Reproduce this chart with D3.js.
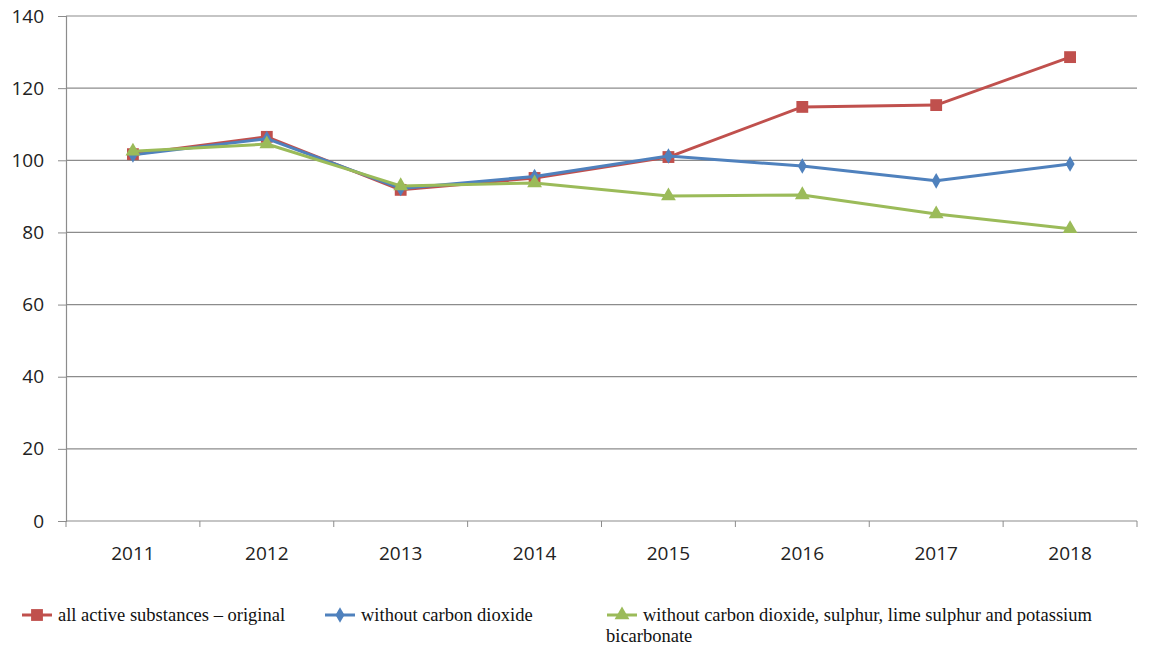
<!DOCTYPE html>
<html>
<head>
<meta charset="utf-8">
<script src="https://cdn.jsdelivr.net/npm/d3@7"></script>
<style>
  body { margin: 0; background: #fff; }
  svg { display: block; }
</style>
</head>
<body>
<script>
// DATA
// =============================================================================

const years = ["2011", "2012", "2013", "2014", "2015", "2016", "2017", "2018"];
const allSubstances = [101.7, 106.5, 91.8, 95.1, 100.9, 114.8, 115.3, 128.6];
const withoutCO2 = [101.5, 106.0, 92.2, 95.5, 101.2, 98.4, 94.3, 99.0];
const withoutCO2Sulphur = [102.5, 104.5, 92.9, 93.7, 90.1, 90.4, 85.1, 81.0];
const yTicks = [0, 20, 40, 60, 80, 100, 120, 140];

const seriesNames = [
  "all active substances \u2013 original",
  "without carbon dioxide",
  "without carbon dioxide, sulphur, lime sulphur and potassium"
];

// CONFIG VARS
// =============================================================================

const width = 1153;
const height = 646;
const plot = { left: 66, top: 16, right: 1137, bottom: 521 };
const tickFont = "'Open Sans', Carlito, sans-serif";
const legendFont = "'Liberation Serif', 'Times New Roman', serif";

const series = [
  { name: seriesNames[0], values: allSubstances, color: "#C0504D", marker: "square" },
  { name: seriesNames[1], values: withoutCO2, color: "#4F81BD", marker: "diamond" },
  { name: seriesNames[2], values: withoutCO2Sulphur, color: "#9BBB59", marker: "triangle" }
];

// SCALES
// =============================================================================

const xScale = d3.scaleBand()
    .domain(years)
    .range([plot.left, plot.right]);

const yScale = d3.scaleLinear()
    .domain([0, 140])
    .range([plot.bottom, plot.top]);

const symbolFor = {
  square: d3.symbol().type(d3.symbolSquare).size(140),
  diamond: d3.symbol().type(d3.symbolDiamond).size(70),
  triangle: d3.symbol().type(d3.symbolTriangle).size(95)
};

// INITIALIZE THE SVG
// =============================================================================

const svg = d3.select("body")
    .append("svg")
    .attr("width", width)
    .attr("height", height);

// gridlines
svg.append("g")
    .selectAll("line")
    .data(yTicks.filter(d => d > 0))
    .enter()
    .append("line")
    .attr("x1", plot.left)
    .attr("x2", plot.right)
    .attr("y1", d => yScale(d))
    .attr("y2", d => yScale(d))
    .attr("stroke", "#8c8c8c")
    .attr("stroke-width", 1.2);

// y axis
const yAxis = svg.append("g")
    .attr("transform", `translate(${plot.left},0)`)
    .call(d3.axisLeft(yScale).tickValues(yTicks).tickSize(8).tickPadding(14));
yAxis.select(".domain").attr("stroke", "#8c8c8c").attr("stroke-width", 1.2);
yAxis.selectAll(".tick line").attr("stroke", "#8c8c8c");
yAxis.selectAll("text")
    .attr("fill", "#222")
    .style("font-family", tickFont)
    .style("font-size", "19px");

// x axis: ticks at band boundaries
const xAxisG = svg.append("g")
    .attr("transform", `translate(0,${plot.bottom})`);
xAxisG.append("line")
    .attr("x1", plot.left)
    .attr("x2", plot.right)
    .attr("stroke", "#8c8c8c")
    .attr("stroke-width", 1.2);
xAxisG.selectAll(".xtick")
    .data(years.concat(["end"]))
    .enter()
    .append("line")
    .attr("x1", (d, i) => plot.left + i * xScale.bandwidth())
    .attr("x2", (d, i) => plot.left + i * xScale.bandwidth())
    .attr("y1", 0)
    .attr("y2", 6)
    .attr("stroke", "#8c8c8c");
xAxisG.selectAll(".xlabel")
    .data(years)
    .enter()
    .append("text")
    .attr("x", d => xScale(d) + xScale.bandwidth() / 2)
    .attr("y", 39)
    .attr("text-anchor", "middle")
    .attr("fill", "#222")
    .style("font-family", tickFont)
    .style("font-size", "19px")
    .text(d => d);

// LINES & MARKERS
// =============================================================================

const line = d3.line()
    .x((d, i) => xScale(years[i]) + xScale.bandwidth() / 2)
    .y(d => yScale(d));

series.forEach(s => {
  svg.append("path")
      .datum(s.values)
      .attr("fill", "none")
      .attr("stroke", s.color)
      .attr("stroke-width", 3)
      .attr("stroke-linejoin", "round")
      .attr("d", line);

  svg.append("g")
      .selectAll("path")
      .data(s.values)
      .enter()
      .append("path")
      .attr("transform", (d, i) =>
        `translate(${xScale(years[i]) + xScale.bandwidth() / 2},${yScale(d)})`)
      .attr("d", symbolFor[s.marker]())
      .attr("fill", s.color);
});

// LEGEND
// =============================================================================

const legendItems = [
  { x: 22, s: series[0] },
  { x: 325, s: series[1] },
  { x: 607, s: series[2] }
];

const legend = svg.append("g")
    .attr("transform", "translate(0,615)");

legendItems.forEach(item => {
  const g = legend.append("g").attr("transform", `translate(${item.x},0)`);
  g.append("line")
      .attr("x1", 0)
      .attr("x2", 30)
      .attr("stroke", item.s.color)
      .attr("stroke-width", 3);
  g.append("path")
      .attr("transform", "translate(15,0)")
      .attr("d", symbolFor[item.s.marker]())
      .attr("fill", item.s.color);
  g.append("text")
      .attr("x", 36)
      .attr("y", 6)
      .attr("fill", "#111")
      .style("font-family", legendFont)
      .style("font-size", "18.5px")
      .text(item.s.name);
});

legend.append("text")
    .attr("x", 606)
    .attr("y", 27)
    .attr("fill", "#111")
    .style("font-family", legendFont)
    .style("font-size", "18.5px")
    .text("bicarbonate");
</script>
</body>
</html>
